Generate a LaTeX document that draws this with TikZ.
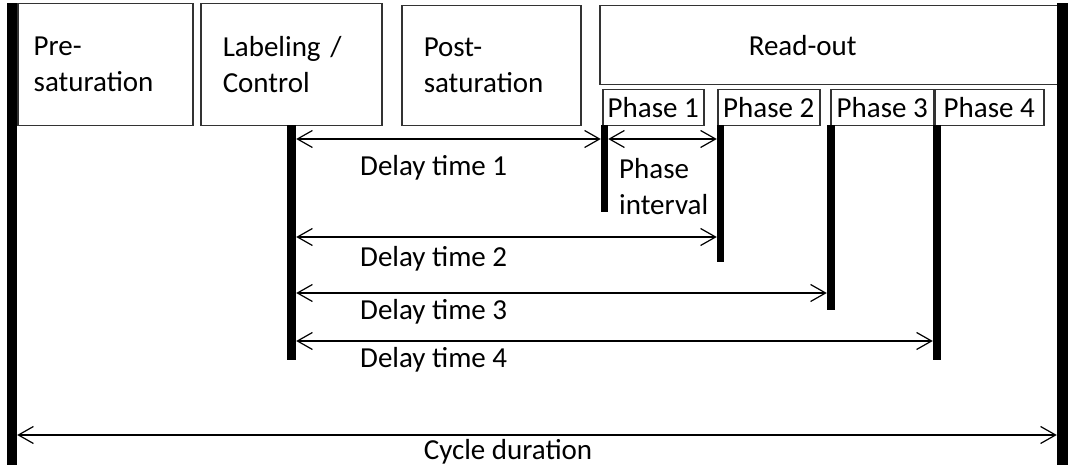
\documentclass[tikz,border=0pt]{standalone}
\usepackage{fontspec}
\setmainfont{Carlito}
\usetikzlibrary{arrows.meta,positioning}

\begin{document}
\begin{tikzpicture}[x=1pt, y=-1pt,
  every node/.style={font=\fontsize{29}{36}\selectfont},
  stage/.style={draw=black!80, line width=1.5pt, anchor=north west, align=left, inner xsep=16pt, inner ysep=0pt},
  phase/.style={draw=black!80, line width=1.5pt, anchor=north west, minimum height=36pt, inner sep=0pt},
  bar/.style={fill=black, anchor=north, inner sep=0pt},
  dim/.style={line width=1.2pt, {Straight Barb[length=15pt,width=17pt]}-{Straight Barb[length=15pt,width=17pt]}},
  lbl/.style={anchor=base west, inner sep=0pt}]
  \useasboundingbox (0,0) rectangle (1072,470);

  \node[stage, minimum width=175pt, minimum height=122pt, text width=143pt] at (17,3) (pre) {Pre-\\saturation};
  \node[stage, minimum width=181pt, minimum height=122pt, inner xsep=22pt, text width=137pt] at (200,3) (label) {Labeling /\\Control};
  \node[stage, minimum width=179pt, minimum height=120pt, inner xsep=22pt, text width=135pt] at (401,5) (post) {Post-\\saturation};
  \node[stage, minimum width=459pt, minimum height=79pt, inner xsep=149pt, text width=161pt] at (599,5) (readout) {Read-out};

  \node[phase, minimum width=101pt] at (602,89) (ph1) {Phase 1};
  \node[phase, minimum width=102pt] at (717,89) (ph2) {Phase 2};
  \node[phase, minimum width=103pt] at (830,89) (ph3) {Phase 3};
  \node[phase, minimum width=109pt] at (934,89) (ph4) {Phase 4};

  \node[bar, minimum width=10pt, minimum height=462pt] at (12,3) (leftBar) {};
  \node[bar, minimum width=11pt, minimum height=462pt] at (1062.5,3) (rightBar) {};
  \node[bar, minimum width=9pt, minimum height=235pt] at (291.5,125) (labBar) {};
  \node[bar, minimum width=7pt, minimum height=87pt] at (604.5,125) (p1Bar) {};
  \node[bar, minimum width=7pt, minimum height=137pt] at (720.5,125) (p2Bar) {};
  \node[bar, minimum width=8pt, minimum height=185pt] at (831,125) (p3Bar) {};
  \node[bar, minimum width=8pt, minimum height=235pt] at (937,125) (p4Bar) {};

  \coordinate (d1) at (0,139);
  \coordinate (d2) at (0,237);
  \coordinate (d3) at (0,293);
  \coordinate (d4) at (0,341);
  \coordinate (cyc) at (0,435);

  \draw[dim] (labBar.east |- d1) -- (p1Bar.west |- d1);
  \draw[dim] (p1Bar.east |- d1) -- (p2Bar.west |- d1);
  \draw[dim] (labBar.east |- d2) -- (p2Bar.west |- d2);
  \draw[dim] (labBar.east |- d3) -- (p3Bar.west |- d3);
  \draw[dim] (labBar.east |- d4) -- (p4Bar.west |- d4);
  \draw[dim] (leftBar.east |- cyc) -- (rightBar.west |- cyc);

  \node[lbl] at (360,176) (dt1) {Delay time 1};
  \node[anchor=north west, align=left, inner sep=0pt] at (619,158) (interval) {Phase\\interval};
  \node[lbl] at (360,267) (dt2) {Delay time 2};
  \node[lbl] at (360,320) (dt3) {Delay time 3};
  \node[lbl] at (360,368) (dt4) {Delay time 4};
  \node[anchor=base, inner sep=0pt] at (508,460) (cycle) {Cycle duration};

\end{tikzpicture}
\end{document}
